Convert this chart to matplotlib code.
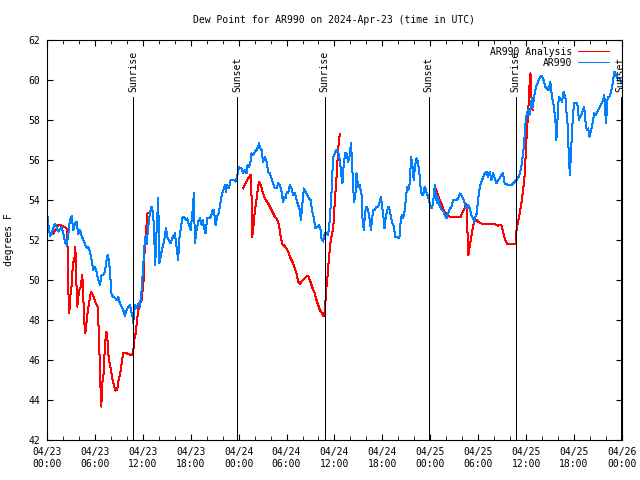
import numpy as np
import matplotlib
matplotlib.use("Agg")
import matplotlib.pyplot as plt
import matplotlib.dates as mdates
from datetime import datetime, timedelta

# hours since 2024-04-23 00:00 UTC
blue_h = [0.0, 0.17, 0.38, 0.58, 0.79, 1.0, 1.21, 1.42, 1.83, 2.04, 2.25, 2.46, 2.67, 2.88, 3.09, 3.3, 3.5,
          3.71, 3.92, 4.13, 4.34, 4.76, 4.97, 5.17, 5.38, 5.59, 5.8, 6.0, 6.22, 6.42, 6.63, 6.84, 7.05, 7.26,
          7.47, 7.59, 7.76, 7.88, 8.09, 8.3, 8.51, 8.72, 8.93, 9.14, 9.35, 9.55, 9.76, 9.97, 10.18, 10.39,
          10.51, 10.68, 10.8, 11.01, 11.22, 11.43, 11.64, 11.85, 12.05, 12.18, 12.27, 12.48, 12.68, 12.89,
          13.1, 13.3, 13.43, 13.55, 13.73, 13.93, 14.06, 14.23, 14.39, 14.56, 14.77, 14.89, 15.06, 15.27,
          15.48, 15.69, 15.81, 16.02, 16.23, 16.43, 16.56, 16.73, 16.94, 17.15, 17.36, 17.56, 17.77, 17.98,
          18.19, 18.4, 18.52, 18.73, 18.94, 19.15, 19.36, 19.48, 19.65, 19.86, 20.07, 20.32, 20.53, 20.74,
          20.9, 21.11, 21.32, 21.53, 21.65, 21.86, 22.07, 22.28, 22.4, 22.57, 22.78, 22.99, 23.19, 23.4,
          23.61, 23.82, 23.95, 24.07, 24.15, 24.37, 24.57, 24.78, 24.99, 25.12, 25.28, 25.45, 25.62, 25.82,
          26.03, 26.25, 26.45, 26.57, 26.7, 26.87, 27.07, 27.28, 27.5, 27.7, 27.91, 28.12, 28.32, 28.54,
          28.75, 28.95, 29.16, 29.37, 29.57, 29.7, 29.87, 30.04, 30.2, 30.41, 30.62, 30.83, 31.04, 31.25,
          31.45, 31.66, 31.79, 31.95, 32.17, 32.38, 32.58, 32.79, 33.0, 33.21, 33.42, 33.63, 33.83, 34.04,
          34.26, 34.38, 34.58, 34.79, 35.0, 35.21, 35.42, 35.63, 35.83, 36.04, 36.25, 36.46, 36.67, 36.88,
          37.0, 37.17, 37.34, 37.51, 37.71, 37.92, 38.05, 38.17, 38.34, 38.46, 38.63, 38.76, 38.96, 39.17,
          39.39, 39.51, 39.67, 39.84, 40.01, 40.21, 40.43, 40.55, 40.71, 40.84, 41.05, 41.26, 41.46, 41.68,
          41.8, 41.97, 42.09, 42.26, 42.43, 42.6, 42.76, 42.93, 43.1, 43.26, 43.43, 43.6, 43.77, 43.97,
          44.14, 44.27, 44.43, 44.6, 44.77, 44.93, 45.1, 45.27, 45.43, 45.6, 45.77, 45.93, 46.1, 46.27,
          46.43, 46.6, 46.77, 46.93, 47.1, 47.31, 47.52, 47.72, 47.93, 48.06, 48.22, 48.44, 48.56, 48.69,
          48.85, 48.97, 49.15, 49.31, 49.48, 49.65, 49.81, 50.03, 50.15, 50.31, 50.48, 50.65, 50.85, 51.06,
          51.27, 51.48, 51.69, 51.9, 52.1, 52.31, 52.52, 52.73, 52.94, 53.15, 53.35, 53.48, 53.65, 53.82,
          53.98, 54.15, 54.32, 54.48, 54.65, 54.82, 55.03, 55.23, 55.44, 55.65, 55.86, 56.07, 56.28, 56.48,
          56.69, 56.9, 57.11, 57.32, 57.74, 58.16, 58.36, 58.57, 58.78, 58.99, 59.2, 59.41, 59.61, 59.74,
          59.95, 60.08, 60.29, 60.41, 60.58, 60.7, 60.83, 61.0, 61.13, 61.25, 61.42, 61.59, 61.76, 61.97,
          62.18, 62.4, 62.61, 62.82, 63.03, 63.24, 63.45, 63.66, 63.79, 63.95, 64.09, 64.29, 64.5, 64.71,
          64.93, 65.05, 65.23, 65.35, 65.48, 65.65, 65.78, 65.99, 66.2, 66.41, 66.62, 66.75, 66.92, 67.05,
          67.26, 67.47, 67.6, 67.77, 67.94, 68.1, 68.31, 68.52, 68.74, 68.95, 69.16, 69.37, 69.58, 69.79,
          70.0, 70.21, 70.42, 70.63, 70.84, 71.05, 71.26, 71.47, 71.68, 71.9]
blue_v = [53.4, 52.8, 52.2, 52.3, 52.6, 52.8, 52.67, 52.42, 52.67, 52.33, 51.9, 51.75, 52.3, 53.0, 53.2,
          52.5, 52.83, 52.92, 52.3, 52.5, 52.2, 51.8, 51.6, 51.67, 51.4, 51.0, 50.5, 50.67, 50.4, 50.0,
          49.75, 50.25, 50.25, 50.42, 51.0, 51.25, 51.0, 50.42, 49.25, 49.17, 49.1, 49.0, 49.17, 48.8,
          48.67, 48.5, 48.2, 48.5, 48.67, 48.75, 48.5, 48.25, 47.85, 48.75, 48.58, 48.83, 48.67, 49.5,
          50.67, 51.5, 52.17, 51.8, 52.67, 53.33, 53.67, 53.33, 52.17, 50.75, 52.5, 54.1, 50.83, 51.17,
          51.5, 51.75, 52.17, 52.6, 52.17, 52.0, 51.83, 52.08, 52.17, 52.33, 51.67, 51.0, 52.0, 52.5, 53.1,
          53.17, 53.0, 53.08, 52.75, 52.5, 53.25, 54.33, 51.83, 52.5, 52.92, 53.08, 52.75, 53.0, 52.67,
          52.33, 53.1, 53.08, 53.17, 53.5, 53.5, 52.75, 53.17, 53.4, 53.67, 54.17, 54.5, 54.75, 54.42,
          54.75, 54.58, 55.0, 55.0, 55.0, 54.92, 55.17, 55.5, 55.67, 55.58, 55.58, 55.33, 55.5, 55.33,
          55.75, 55.67, 55.83, 56.33, 56.25, 56.42, 56.5, 56.67, 56.83, 56.58, 56.5, 55.9, 56.17, 55.9,
          55.4, 55.33, 55.08, 54.83, 54.58, 54.58, 54.83, 54.75, 54.42, 53.9, 54.17, 54.08, 54.42, 54.33,
          54.75, 54.58, 54.25, 54.33, 54.0, 53.75, 53.5, 53.0, 53.67, 54.58, 54.42, 54.25, 54.08, 54.0,
          53.42, 53.08, 52.58, 52.67, 52.75, 52.5, 52.08, 51.92, 52.33, 52.33, 52.25, 53.0, 54.4, 56.1,
          56.33, 56.5, 56.42, 56.0, 55.17, 54.83, 55.83, 56.33, 56.33, 55.92, 56.25, 56.83, 56.17, 54.67,
          53.92, 54.33, 55.33, 54.67, 54.75, 54.25, 53.08, 52.5, 53.42, 53.67, 53.5, 53.0, 52.5, 53.0,
          53.5, 53.5, 53.67, 53.67, 53.92, 54.17, 53.67, 53.33, 52.58, 53.17, 53.5, 53.67, 53.5, 53.08,
          52.83, 52.67, 52.17, 52.17, 52.08, 52.17, 52.83, 53.25, 53.08, 53.42, 54.0, 54.67, 54.5, 54.83,
          56.17, 55.67, 55.0, 55.75, 56.08, 55.92, 55.5, 54.67, 54.25, 54.25, 54.67, 54.4, 54.17, 53.83,
          53.58, 53.58, 54.17, 54.75, 54.17, 53.83, 54.17, 53.75, 53.58, 53.5, 53.42, 53.25, 53.08, 53.25,
          53.42, 53.58, 53.67, 54.0, 54.0, 54.0, 54.08, 54.33, 54.25, 54.08, 53.83, 53.58, 53.75, 53.58,
          53.25, 53.08, 52.92, 53.17, 53.33, 54.0, 54.5, 54.83, 55.0, 55.17, 55.33, 55.42, 55.17, 55.42,
          55.0, 55.33, 55.08, 54.83, 55.0, 55.08, 55.25, 55.33, 54.83, 54.75, 54.75, 54.83, 54.92, 55.0,
          55.1, 55.3, 55.7, 56.3, 56.8, 58.0, 58.33, 58.5, 58.25, 58.67, 59.08, 58.67, 59.17, 59.42,
          59.67, 59.83, 60.0, 60.17, 60.2, 60.0, 59.67, 59.58, 59.5, 59.92, 59.17, 58.75, 58.0, 57.0,
          58.17, 59.17, 59.08, 58.92, 59.42, 59.08, 58.42, 57.58, 56.08, 55.25, 56.67, 57.67, 58.83,
          58.83, 58.83, 58.0, 58.17, 58.25, 58.42, 58.67, 57.75, 57.5, 57.58, 57.17, 57.42, 57.83, 58.33,
          58.25, 58.42, 58.58, 58.75, 58.92, 59.25, 57.83, 59.17, 59.17, 59.42, 59.83, 60.42, 60.25,
          60.08, 60.08, 59.9]

# analysis series, NaN marks the gaps
red_h = [0.38, 0.79, 1.21, 1.42, 1.63, 2.04, 2.25, 2.46, 2.59, 2.67, 2.79, 2.92, 3.09, 3.25, 3.42, 3.55,
         3.67, 3.8, 3.92, 4.09, 4.26, 4.38, 4.51, 4.63, 4.8, 4.97, 5.13, 5.3, 5.51, 5.72, 5.92, 6.13, 6.34,
         6.51, 6.67, 6.8, 6.92, 7.09, 7.26, 7.43, 7.55, 7.67, 7.84, 8.01, 8.22, 8.42, 8.59, 8.8, 8.93,
         9.14, 9.35, 9.55, 9.76, 10.18, 10.6, 10.8, 10.93, 11.1, 11.26, 11.43, 11.64, 11.85, 11.97, 12.1,
         12.18, 12.27, 12.39, 12.56, 12.68, np.nan,
         24.57, 24.78, 24.99, 25.2, 25.49, 25.62, 25.7, 25.82, 25.95, 26.12, 26.28, 26.45, 26.57, 26.78,
         26.99, 27.2, 27.41, 27.7, 27.91, 28.12, 28.32, 28.54, 28.75, 28.95, 29.16, 29.29, 29.5, 29.66,
         29.79, 30.0, 30.2, 30.41, 30.62, 30.83, 31.04, 31.25, 31.45, 31.66, 31.88, 32.08, 32.29, 32.5,
         32.7, 32.92, 33.13, 33.33, 33.54, 33.75, 33.96, 34.17, 34.38, 34.58, 34.71, 34.88, 35.0, 35.13,
         35.29, 35.46, 35.67, 35.83, 35.96, 36.08, 36.25, 36.34, 36.46, 36.58, 36.67, 36.73, np.nan,
         48.69, 48.85, 49.02, 49.19, 49.4, 49.6, 49.81, 50.03, 50.23, 50.44, 50.65, 51.06, 51.48, 51.78,
         51.98, 52.19, 52.4, 52.52, 52.65, 52.77, 52.9, 53.07, 53.23, 53.4, 53.57, 53.78, 53.98, 54.19,
         54.4, 54.61, 55.03, 55.44, 55.86, 56.07, 56.28, 56.48, 56.69, 56.9, 57.11, 57.32, 57.61, 57.95,
         58.36, 58.66, 58.7, 58.82, 58.99, 59.2, 59.41, 59.61, 59.74, 59.86, 59.99, 60.16, 60.29, 60.41,
         60.54, 60.62, 60.7, 60.83]
red_v = [52.25, 52.33, 52.58, 52.75, 52.75, 52.67, 52.67, 52.58, 51.5, 49.5, 48.33, 49.17, 49.75, 50.83,
         51.0, 51.67, 50.0, 48.67, 49.17, 49.58, 49.67, 50.25, 49.83, 48.08, 47.33, 47.92, 48.5, 48.92,
         49.42, 49.25, 49.08, 48.83, 48.67, 47.25, 44.92, 43.67, 44.83, 45.33, 46.75, 47.42, 47.17, 46.33,
         45.83, 45.5, 45.0, 44.67, 44.47, 44.5, 44.92, 45.25, 45.83, 46.37, 46.37, 46.3, 46.25, 46.42,
         47.0, 47.33, 47.92, 48.5, 48.83, 49.0, 49.5, 50.0, 51.0, 52.0, 52.25, 53.33, 53.33, np.nan,
         54.58, 54.75, 54.92, 55.08, 55.25, 54.17, 52.17, 52.5, 53.17, 53.67, 54.17, 54.67, 54.92, 54.75,
         54.42, 54.17, 54.0, 53.83, 53.67, 53.5, 53.33, 53.17, 53.08, 52.92, 52.5, 52.08, 51.75, 51.75,
         51.67, 51.58, 51.42, 51.17, 51.0, 50.83, 50.58, 50.33, 49.92, 49.8, 49.92, 50.0, 50.08, 50.17,
         50.2, 50.0, 49.75, 49.5, 49.33, 49.0, 48.75, 48.5, 48.37, 48.2, 48.2, 49.0, 49.67, 50.17, 51.0,
         51.75, 52.3, 52.5, 53.33, 54.17, 55.08, 55.67, 56.5, 57.08, 57.25, 57.3, np.nan,
         54.55, 54.37, 54.17, 54.0, 53.83, 53.58, 53.42, 53.33, 53.25, 53.17, 53.13, 53.13, 53.13, 53.13,
         53.33, 53.5, 53.67, 53.8, 52.5, 51.25, 51.58, 52.0, 52.42, 52.75, 53.0, 53.0, 52.92, 52.87, 52.83,
         52.8, 52.8, 52.8, 52.8, 52.8, 52.75, 52.7, 52.75, 52.75, 52.42, 52.08, 51.8, 51.8, 51.8, 51.8,
         52.0, 52.58, 52.92, 53.33, 53.83, 54.5, 54.92, 55.5, 56.67, 57.83, 58.67, 59.67, 60.33, 60.0,
         58.67, 58.5]

sun_labels = ["Sunrise", "Sunset", "Sunrise", "Sunset", "Sunrise", "Sunset"]
sun_h = [10.77, 23.78, 34.79, 47.81, 58.7, 71.84]

start = datetime(2024, 4, 23)

def to_num(hours):
    # hours -> matplotlib date numbers, NaN stays NaN (line gap)
    out = []
    for h in hours:
        if np.isnan(h):
            out.append(np.nan)
        else:
            out.append(mdates.date2num(start + timedelta(hours=float(h))))
    return np.array(out)

plt.rcParams['font.family'] = ['DejaVu Sans Mono']
plt.rcParams['font.size'] = 7

fig = plt.figure(figsize=(6.4, 4.8), dpi=100)
ax = fig.add_axes([0.0734, 0.0833, 0.8984, 0.8334])

lw = 0.72  # one pixel at 100 dpi
ax.plot(to_num(red_h), red_v, color='#ff0000', lw=lw, antialiased=False, label='AR990 Analysis')
ax.plot(to_num(blue_h), blue_v, color='#0080ff', lw=lw, antialiased=False, label='AR990')

# sunrise / sunset markers
for lab, t in zip(sun_labels, to_num(sun_h)):
    ax.vlines(t, 42, 59.15, color='black', lw=lw, antialiased=False)
    ax.text(t, 59.4, lab, rotation=90, ha='center', va='bottom', clip_on=False)

ax.set_xlim(to_num([0])[0], to_num([72])[0])
ax.set_ylim(42, 62)
ax.set_yticks(np.arange(42, 63, 2))
ax.xaxis.set_major_locator(mdates.HourLocator(byhour=range(0, 24, 6)))
ax.xaxis.set_minor_locator(mdates.HourLocator(interval=2))
ax.xaxis.set_major_formatter(mdates.DateFormatter('%m/%d\n%H:%M'))
ax.tick_params(which='both', direction='in', top=True, right=True)
ax.tick_params(which='major', length=4, pad=5)
ax.tick_params(which='minor', length=3)

ax.set_ylabel('degrees F', labelpad=10)
ax.set_title('Dew Point for AR990 on 2024-Apr-23 (time in UTC)', fontsize=7, pad=12)
ax.legend(loc='upper right', bbox_to_anchor=(0.99, 1.0), frameon=False, markerfirst=False,
          handlelength=3.2, borderaxespad=0.3, labelspacing=0.1, handletextpad=0.6)

fig.savefig('out.png', dpi=100)
